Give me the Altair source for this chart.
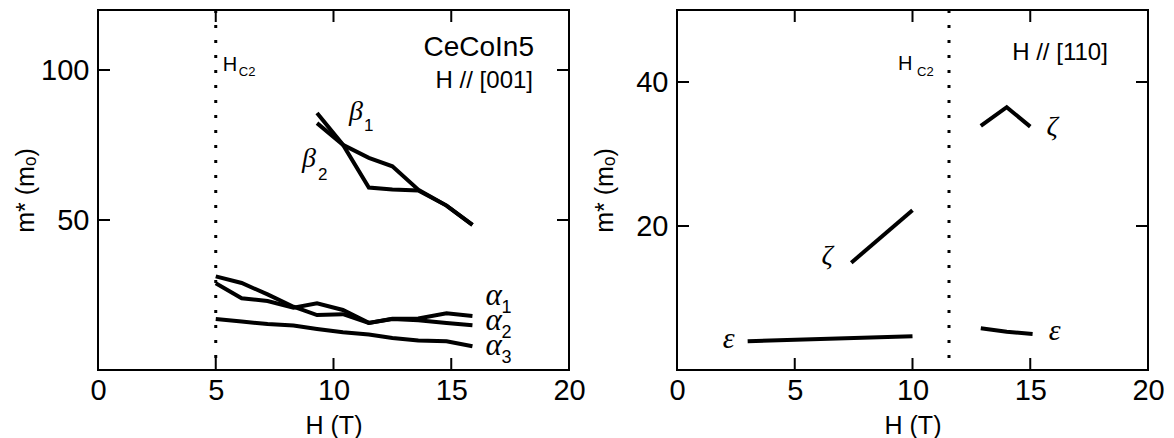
import altair as alt
import pandas as pd

# ---------------- data: left panel, H // [001] ----------------
H_alpha = [5.0, 6.1, 7.2, 8.3, 9.3, 10.4, 11.5, 12.5, 13.6, 14.8, 15.9]
alpha1 = [28.9, 23.9, 23.0, 20.8, 22.2, 20.0, 15.7, 17.1, 17.2, 18.9, 18.0]
alpha2 = [31.2, 29.0, 25.2, 21.1, 18.3, 18.6, 15.7, 17.0, 16.6, 15.7, 14.9]
alpha3 = [17.0, 16.2, 15.3, 14.8, 13.7, 12.6, 11.8, 10.7, 9.8, 9.6, 7.9]
H_beta = [9.3, 10.4, 11.5, 12.5, 13.6, 14.8, 15.9]
beta1 = [85.7, 75.1, 60.8, 60.2, 59.8, 54.8, 48.4]
beta2 = [82.3, 75.1, 70.7, 67.9, 60.1, 54.8, 48.4]
HC2_001 = 5.0

# ---------------- data: right panel, H // [110] ----------------
zeta_low_H = [7.4, 10.0]
zeta_low_m = [14.9, 22.2]
eps_low_H = [3.0, 10.0]
eps_low_m = [4.0, 4.7]
zeta_high_H = [12.9, 14.0, 15.0]
zeta_high_m = [33.9, 36.5, 33.8]
eps_high_H = [12.9, 14.0, 15.1]
eps_high_m = [5.8, 5.3, 5.0]
HC2_110 = 11.55

x_labels = [0, 5, 10, 15, 20]
x_ticks = [5, 10, 15]
y_ticks_left = [50, 100]
y_ticks_right = [20, 40]
y_domain_left = [0, 120]
y_domain_right = [0, 50]

W, H = 471, 360
TICK = 12


def series_df(items):
    rows = []
    for name, xs, ys in items:
        for x, y in zip(xs, ys):
            rows.append({"series": name, "H": x, "m": y})
    return pd.DataFrame(rows)


one = pd.DataFrame({"a": [0]})


def text_layer(text, x, y, size, dx=0, dy=0, align="left", baseline="alphabetic",
               font="Liberation Sans", style="normal"):
    return alt.Chart(one).mark_text(
        text=text, fontSize=size, font=font, fontStyle=style, align=align,
        baseline=baseline, dx=dx, dy=dy, color="black"
    ).encode(x=x, y=y)


def panel(df, y_domain, y_ticks, hc2):
    xs = alt.Scale(domain=[0, 20], nice=False, zero=False)
    ys = alt.Scale(domain=y_domain, nice=False, zero=False)
    lines = alt.Chart(df).mark_line(color="black", strokeWidth=4).encode(
        x=alt.X("H:Q", scale=xs, axis=alt.Axis(
            values=x_labels, title="H (T)", titleY=63, titleBaseline="alphabetic",
            labelFlush=False, labelPadding=6, labelOverlap=False)),
        y=alt.Y("m:Q", scale=ys, axis=alt.Axis(
            values=y_ticks, title="m* (mₒ)", titleX=-73, titleY=H / 2,
            titleAngle=270, titleBaseline="middle", titleAlign="center",
            labelPadding=9, labelOverlap=False)),
        detail="series:N",
    )
    hc2_rule = alt.Chart(pd.DataFrame({"H": [hc2]})).mark_rule(
        color="black", strokeWidth=3, strokeDash=[3, 12]
    ).encode(x="H:Q", y=alt.value(0), y2=alt.value(H))
    xt = pd.DataFrame({"H": x_ticks})
    yt = pd.DataFrame({"m": y_ticks})
    rk = dict(color="black", strokeWidth=2)
    t_top = alt.Chart(xt).mark_rule(**rk).encode(x="H:Q", y=alt.value(0), y2=alt.value(TICK))
    t_bot = alt.Chart(xt).mark_rule(**rk).encode(x="H:Q", y=alt.value(H - TICK), y2=alt.value(H))
    t_left = alt.Chart(yt).mark_rule(**rk).encode(y="m:Q", x=alt.value(0), x2=alt.value(TICK))
    t_right = alt.Chart(yt).mark_rule(**rk).encode(y="m:Q", x=alt.value(W - TICK), x2=alt.value(W))
    return [lines, hc2_rule, t_top, t_bot, t_left, t_right]


# ---------------- left panel ----------------
left_df = series_df([
    ("a1", H_alpha, alpha1), ("a2", H_alpha, alpha2), ("a3", H_alpha, alpha3),
    ("b1", H_beta, beta1), ("b2", H_beta, beta2),
])
GREEK = dict(font="Liberation Serif", style="italic")
left_layers = panel(left_df, y_domain_left, y_ticks_left, HC2_001) + [
    text_layer("CeCoIn5", alt.value(W - 35), alt.value(46), 28, align="right"),
    text_layer("H // [001]", alt.value(W - 36), alt.value(78), 24, align="right"),
    text_layer("H", alt.datum(HC2_001), alt.value(61), 20, dx=7),
    text_layer("C2", alt.datum(HC2_001), alt.value(66), 13, dx=23),
    # alpha labels anchored at the line ends
    text_layer("α", alt.datum(H_alpha[-1]), alt.datum(alpha1[-1]), 31, dx=13, dy=-11, **GREEK),
    text_layer("1", alt.datum(H_alpha[-1]), alt.datum(alpha1[-1]), 18, dx=29, dy=-3),
    text_layer("α", alt.datum(H_alpha[-1]), alt.datum(alpha2[-1]), 31, dx=13, dy=5, **GREEK),
    text_layer("2", alt.datum(H_alpha[-1]), alt.datum(alpha2[-1]), 18, dx=29, dy=13),
    text_layer("α", alt.datum(H_alpha[-1]), alt.datum(alpha3[-1]), 31, dx=13, dy=9, **GREEK),
    text_layer("3", alt.datum(H_alpha[-1]), alt.datum(alpha3[-1]), 18, dx=29, dy=17),
    # beta labels anchored at the line starts
    text_layer("β", alt.datum(H_beta[0]), alt.datum(beta1[0]), 28, dx=32, dy=7, **GREEK),
    text_layer("1", alt.datum(H_beta[0]), alt.datum(beta1[0]), 17, dx=47, dy=18),
    text_layer("β", alt.datum(H_beta[0]), alt.datum(beta2[0]), 28, dx=-15, dy=44, **GREEK),
    text_layer("2", alt.datum(H_beta[0]), alt.datum(beta2[0]), 17, dx=1, dy=57),
]
left = alt.layer(*left_layers).properties(width=W, height=H)

# ---------------- right panel ----------------
right_df = series_df([
    ("zl", zeta_low_H, zeta_low_m), ("el", eps_low_H, eps_low_m),
    ("zh", zeta_high_H, zeta_high_m), ("eh", eps_high_H, eps_high_m),
])
right_layers = panel(right_df, y_domain_right, y_ticks_right, HC2_110) + [
    text_layer("H // [110]", alt.value(383), alt.value(50), 24, align="center"),
    text_layer("H", alt.datum(HC2_110), alt.value(60), 20, dx=-51),
    text_layer("C2", alt.datum(HC2_110), alt.value(66), 13, dx=-32),
    text_layer("ζ", alt.datum(zeta_low_H[0]), alt.datum(zeta_low_m[0]), 28, dx=-24, dy=1,
               align="center", **GREEK),
    text_layer("ε", alt.datum(eps_low_H[0]), alt.datum(eps_low_m[0]), 30, dx=-19, dy=7,
               align="center", **GREEK),
    text_layer("ζ", alt.datum(zeta_high_H[-1]), alt.datum(zeta_high_m[-1]), 28, dx=22, dy=8,
               align="center", **GREEK),
    text_layer("ε", alt.datum(eps_high_H[-1]), alt.datum(eps_high_m[-1]), 30, dx=22, dy=6,
               align="center", **GREEK),
]
right = alt.layer(*right_layers).properties(width=W, height=H)

chart = alt.hconcat(left, right, spacing=108, bounds="flush").properties(
    padding={"left": 12, "top": 7, "right": 5, "bottom": 0},
    background="white",
).configure_view(
    stroke="black", strokeWidth=2
).configure_axis(
    labelFont="Liberation Sans", labelFontSize=29, labelColor="black",
    titleFont="Liberation Sans", titleFontSize=25, titleFontWeight="normal",
    titleColor="black", ticks=False, domain=False, grid=False,
)

chart.save("out.html", embed_options={"renderer": "svg", "actions": False})
